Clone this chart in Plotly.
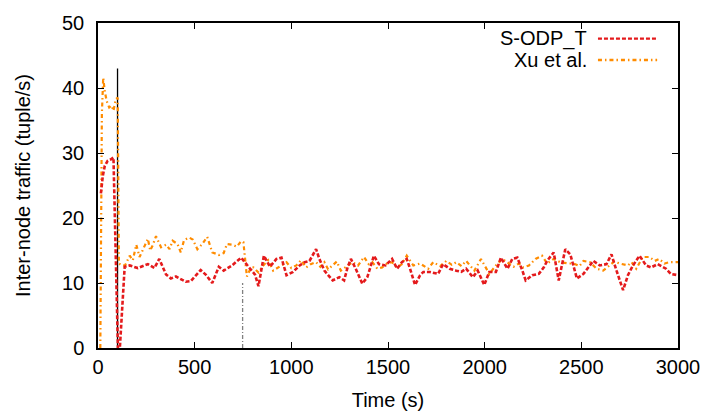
import plotly.graph_objects as go

# ---- data ----
time_sodp = [15, 25, 35, 50, 65, 80, 103, 113, 138, 164, 206, 258, 292, 317, 352, 377, 403, 428, 454,
             480, 531, 557, 591, 625, 650, 693, 741, 778, 812, 830, 858, 889, 923, 949, 975, 1009,
             1043, 1069, 1094, 1128, 1145, 1171, 1214, 1248, 1273, 1291, 1308, 1333, 1367, 1393,
             1427, 1453, 1487, 1521, 1547, 1572, 1597, 1614, 1640, 1666, 1683, 1717, 1759, 1785,
             1819, 1853, 1879, 1904, 1939, 1964, 1998, 2024, 2058, 2084, 2118, 2143, 2169, 2195,
             2212, 2246, 2280, 2306, 2323, 2357, 2383, 2417, 2443, 2477, 2511, 2562, 2596, 2630,
             2656, 2682, 2716, 2741, 2767, 2801, 2835, 2861, 2895, 2938, 2963, 3000]
traffic_sodp = [23.8, 26.5, 28.0, 28.8, 29.0, 29.3, 0, 0, 12.5, 12.7, 12.3, 12.9, 12.3, 13.7, 11.3,
                10.7, 11.0, 10.6, 10.2, 10.3, 12.0, 11.3, 10.0, 12.5, 11.9, 12.7, 13.9, 12.5, 11.3,
                9.5, 14.2, 12.5, 13.7, 13.9, 11.2, 11.7, 12.7, 13.2, 13.4, 15.2, 13.7, 11.9, 10.4,
                10.9, 10.4, 12.4, 13.7, 12.2, 9.9, 10.9, 14.2, 12.9, 12.7, 13.7, 12.2, 13.2, 13.7,
                12.2, 9.7, 11.2, 11.7, 11.7, 11.4, 12.9, 12.2, 11.9, 11.7, 12.2, 10.9, 11.9, 9.7,
                11.7, 11.7, 13.9, 12.2, 13.7, 13.9, 11.9, 10.4, 11.2, 11.4, 12.4, 13.4, 14.7, 10.4,
                15.2, 14.4, 10.7, 11.4, 13.4, 12.7, 12.9, 14.4, 11.9, 8.9, 11.2, 12.7, 14.2, 12.7,
                12.4, 12.9, 12.2, 11.4, 11.2]

time_xu = [12, 20, 27, 35, 45, 58, 70, 80, 92, 102, 108, 125, 140, 164, 180, 198, 215, 240, 258, 270,
           283, 300, 326, 352, 370, 386, 411, 428, 445, 471, 490, 514, 539, 565, 591, 610, 625, 650,
           667, 693, 718, 740, 752, 770, 790, 804, 830, 855, 880, 906, 940, 975, 1000, 1026, 1050,
           1077, 1100, 1128, 1150, 1171, 1190, 1214, 1235, 1256, 1290, 1316, 1345, 1376, 1400, 1419,
           1445, 1470, 1495, 1521, 1545, 1572, 1597, 1631, 1666, 1708, 1734, 1770, 1802, 1830, 1853,
           1880, 1904, 1947, 1981, 2000, 2024, 2058, 2092, 2126, 2150, 2177, 2200, 2229, 2263, 2297,
           2323, 2357, 2391, 2434, 2460, 2490, 2511, 2545, 2579, 2613, 2647, 2670, 2699, 2741, 2760,
           2784, 2818, 2852, 2880, 2903, 2930, 2955, 3000]
traffic_xu = [0, 36.0, 41.6, 39.5, 38.0, 37.0, 37.3, 36.5, 38.3, 38.5, 13.0, 12.7, 12.7, 14.2, 13.5,
              15.9, 14.0, 15.5, 16.8, 15.0, 15.8, 17.2, 15.5, 15.9, 15.2, 16.5, 16.0, 14.7, 16.6,
              17.0, 16.7, 15.2, 16.0, 17.1, 14.7, 14.5, 14.3, 14.6, 16.0, 15.9, 15.6, 16.4, 16.3,
              11.0, 12.3, 12.4, 11.6, 12.7, 13.5, 11.9, 12.6, 13.2, 12.3, 12.7, 13.5, 12.4, 12.9,
              13.2, 12.5, 13.2, 12.1, 12.7, 13.3, 11.9, 12.6, 13.2, 12.7, 14.0, 12.9, 13.2, 12.2,
              12.4, 13.0, 13.2, 12.4, 12.9, 14.2, 12.7, 13.0, 12.2, 13.2, 12.6, 13.4, 12.8, 13.2,
              12.6, 13.4, 11.9, 13.7, 12.6, 11.4, 12.7, 13.7, 13.0, 12.5, 13.0, 12.4, 12.7, 13.7,
              14.2, 13.0, 13.7, 13.2, 13.0, 13.0, 12.6, 13.4, 13.2, 12.2, 11.9, 12.7, 13.3, 13.0,
              12.7, 13.2, 12.2, 14.0, 14.0, 13.4, 13.7, 13.0, 13.2, 13.2]

marker_times = [101, 748]
marker_heights = [43, 10]

RED = "rgb(228,26,28)"
ORANGE = "rgb(255,140,0)"
FONT = "Liberation Sans, Arial, sans-serif"

fig = go.Figure()

# vertical marker lines
fig.add_trace(go.Scatter(x=[marker_times[0], marker_times[0]], y=[0, marker_heights[0]],
                         mode="lines", line=dict(color="black", width=1.3),
                         showlegend=False, hoverinfo="skip"))
fig.add_trace(go.Scatter(x=[marker_times[1], marker_times[1]], y=[0, marker_heights[1]],
                         mode="lines", line=dict(color="gray", width=1.3, dash="4px,2px,1px,2px"),
                         showlegend=False, hoverinfo="skip"))

fig.add_trace(go.Scatter(x=time_xu, y=traffic_xu, mode="lines", name="Xu et al.",
                         line=dict(color=ORANGE, width=2.2, dash="4px,3px,1.5px,3px"),
                         showlegend=False))
fig.add_trace(go.Scatter(x=time_sodp, y=traffic_sodp, mode="lines", name="S-ODP_T",
                         line=dict(color=RED, width=2.6, dash="4px,2px"),
                         showlegend=False))

# manual gnuplot-style legend (text left, sample right)
legend_names = ["S-ODP_T", "Xu et al."]
legend_colors = [RED, ORANGE]
legend_dashes = ["4px,2px", "4px,3px,1.5px,3px"]
legend_y = [0.952, 0.886]
for name, col, dsh, yy in zip(legend_names, legend_colors, legend_dashes, legend_y):
    fig.add_annotation(x=0.846, y=yy, xref="paper", yref="paper", text=name, showarrow=False,
                       xanchor="right", yanchor="middle", font=dict(size=20, color="black", family=FONT))
    fig.add_shape(type="line", xref="paper", yref="paper", x0=0.862, x1=0.964, y0=yy, y1=yy,
                  line=dict(color=col, width=2.4, dash=dsh))

axis_common = dict(showline=True, linecolor="black", linewidth=1.5, mirror="ticks",
                   ticks="inside", ticklen=6, tickcolor="black", showgrid=False, zeroline=False,
                   tickfont=dict(size=20, family=FONT, color="black"))

fig.update_layout(
    width=712, height=420,
    margin=dict(l=98, r=28, t=14, b=72),
    plot_bgcolor="white", paper_bgcolor="white",
    font=dict(family=FONT, size=20, color="black"),
    xaxis=dict(range=[0, 3000], tickvals=[0, 500, 1000, 1500, 2000, 2500, 3000],
               title=dict(text="Time (s)", standoff=16, font=dict(size=20, family=FONT)),
               **axis_common),
    yaxis=dict(range=[0, 50], tickvals=[0, 10, 20, 30, 40, 50],
               title=dict(text="Inter-node traffic (tuple/s)", standoff=26, font=dict(size=20, family=FONT)),
               ticklabelstandoff=8,
               **axis_common),
)

fig.write_html("out.html")
